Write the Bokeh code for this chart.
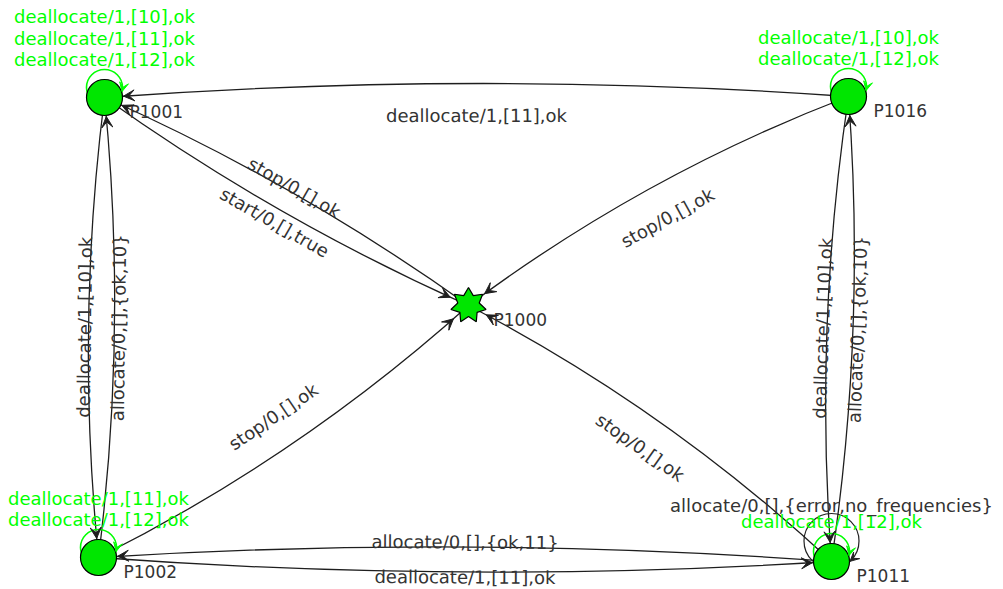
import numpy as np
from bokeh.plotting import figure
from bokeh.models import Range1d, ColumnDataSource, Arrow, VeeHead
from bokeh.core.properties import value
from bokeh.embed import file_html
from bokeh.resources import INLINE

# ---------------- data ----------------
node_names = ["P1000", "P1001", "P1002", "P1011", "P1016"]
node_x = [468, 104, 98, 831, 848]
node_y = [305, 97, 557, 561, 96]
node_shape = ["star", "circle", "circle", "circle", "circle"]

edge_src = ["P1016", "P1001", "P1000", "P1002", "P1001", "P1011",
            "P1016", "P1011", "P1002", "P1002", "P1011", "P1016"]
edge_dst = ["P1001", "P1000", "P1001", "P1001", "P1002", "P1016",
            "P1011", "P1002", "P1011", "P1000", "P1000", "P1000"]
edge_text = ["deallocate/1,[11],ok", "stop/0,[],ok", "start/0,[],true",
             "deallocate/1,[10],ok", "allocate/0,[],{ok,10}",
             "deallocate/1,[10],ok", "allocate/0,[],{ok,10}",
             "deallocate/1,[11],ok", "allocate/0,[],{ok,11}",
             "stop/0,[],ok", "stop/0,[],ok", "stop/0,[],ok"]

# self loops, listed bottom-up per node
loop_node = ["P1001", "P1001", "P1001", "P1016", "P1016",
             "P1002", "P1002", "P1011", "P1011"]
loop_text = ["deallocate/1,[12],ok", "deallocate/1,[11],ok", "deallocate/1,[10],ok",
             "deallocate/1,[12],ok", "deallocate/1,[10],ok",
             "deallocate/1,[12],ok", "deallocate/1,[11],ok",
             "deallocate/1,[12],ok", "allocate/0,[],{error,no_frequencies}"]
loop_kind = ["green"] * 8 + ["dark"]

# ---------------- styles ----------------
edge_bulge = [13.5, 10.5, 10.5, 13, 13, 13, 13, 12.5, 12.5, 15, 15, 15]
edge_label_off = [18.5, 16, 24, 17, 17, 17.5, 17.5, 17.5, 17.5, 18, 17, 19]

GREEN = "#00ff00"
NODE_FILL = "#00e600"
DARK = "#333333"
EDGE_COLOR = "#1e1e1e"
FONT = "DejaVu Sans"
R_NODE = 18
W, H = 1003, 589

p = figure(width=W, height=H, output_backend="svg", toolbar_location=None,
           x_range=Range1d(0, W), y_range=Range1d(H, 0), min_border=0)
p.axis.visible = False
p.grid.visible = False
p.outline_line_color = None
p.background_fill_color = "white"

pos = dict(zip(node_names, zip(node_x, node_y)))

# ---------------- edges ----------------
cx0, cy0, cx1, cy1, ccx, ccy = [], [], [], [], [], []
lab_x, lab_y, lab_a = [], [], []
ar = dict(xs=[], ys=[], xe=[], ye=[])
ts = np.linspace(0, 1, 4001)
for s, t, b, lo in zip(edge_src, edge_dst, edge_bulge, edge_label_off):
    x0, y0 = pos[s]
    x2, y2 = pos[t]
    dx, dy = x2 - x0, y2 - y0
    L = np.hypot(dx, dy)
    nx, ny = -dy / L, dx / L
    mx, my = (x0 + x2) / 2, (y0 + y2) / 2
    cx, cy = mx + 2 * b * nx, my + 2 * b * ny
    cx0.append(x0); cy0.append(y0); cx1.append(x2); cy1.append(y2)
    ccx.append(cx); ccy.append(cy)
    lab_x.append(mx - lo * nx); lab_y.append(my - lo * ny)
    ang = np.arctan2(-dy, dx)
    if ang > np.pi / 2 + 1e-9:
        ang -= np.pi
    elif ang <= -np.pi / 2:
        ang += np.pi
    lab_a.append(ang)
    bx = (1 - ts) ** 2 * x0 + 2 * (1 - ts) * ts * cx + ts ** 2 * x2
    by = (1 - ts) ** 2 * y0 + 2 * (1 - ts) * ts * cy + ts ** 2 * y2
    rt = 20 if t == "P1000" else R_NODE + 1
    d = np.hypot(bx - x2, by - y2)
    i = np.where(d >= rt)[0].max()
    tt = ts[i]
    tx = 2 * (1 - tt) * (cx - x0) + 2 * tt * (x2 - cx)
    ty = 2 * (1 - tt) * (cy - y0) + 2 * tt * (y2 - cy)
    tl = np.hypot(tx, ty)
    ar["xs"].append(bx[i] - tx / tl * 0.5); ar["ys"].append(by[i] - ty / tl * 0.5)
    ar["xe"].append(bx[i]); ar["ye"].append(by[i])

p.quadratic(x0=cx0, y0=cy0, x1=cx1, y1=cy1, cx=ccx, cy=ccy,
            line_color=EDGE_COLOR, line_width=1.3)

# ---------------- loops ----------------
loop_style = {"green": dict(off=10, r=18, color=GREEN, lw=1.6),
              "dark": dict(off=20.5, r=27.5, color="#222222", lw=1.2)}
loop_circ = {}
for n, k in zip(loop_node, loop_kind):
    loop_circ[(n, k)] = True
for (n, k) in loop_circ:
    st = loop_style[k]
    x, y = pos[n]
    p.circle(x=[x], y=[y - st["off"]], radius=st["r"], fill_color=None,
             line_color=st["color"], line_width=st["lw"])
    dd = st["off"]
    a = (dd ** 2 + st["r"] ** 2 - (R_NODE + 0.5) ** 2) / (2 * dd)
    h = np.sqrt(st["r"] ** 2 - a ** 2)
    qx, qy = x + h, y - dd + a
    tx, ty = -a / st["r"], h / st["r"]
    p.add_layout(Arrow(end=VeeHead(size=9, fill_color=st["color"], line_color=st["color"]),
                       x_start=qx - tx * 0.5, y_start=qy - ty * 0.5, x_end=qx, y_end=qy,
                       line_alpha=0))

# ---------------- nodes ----------------
for n, shp in zip(node_names, node_shape):
    x, y = pos[n]
    if shp == "circle":
        p.circle(x=[x], y=[y], radius=R_NODE, fill_color=NODE_FILL,
                 line_color="black", line_width=1.2)
    else:
        k = np.arange(14)
        ang = -np.pi / 2 + k * np.pi / 7
        rad = np.where(k % 2 == 0, 18, 11)
        p.patch(x + rad * np.cos(ang), y + rad * np.sin(ang), fill_color=NODE_FILL,
                line_color="black", line_width=1.2)

# arrows of edges
p.add_layout(Arrow(end=VeeHead(size=11, fill_color=EDGE_COLOR, line_color=EDGE_COLOR, line_width=1),
                   source=ColumnDataSource(ar), x_start="xs", y_start="ys",
                   x_end="xe", y_end="ye", line_alpha=0))

# edge labels
p.text(x=lab_x, y=lab_y, text=edge_text, angle=lab_a, text_align="center",
       text_baseline="middle", text_font=value(FONT), text_font_size="18px",
       text_color=DARK)

# loop labels (stacked upwards from the node)
ll_x, ll_y, ll_t, ll_c = [], [], [], []
level = {}
for n, txt, k in zip(loop_node, loop_text, loop_kind):
    x, y = pos[n]
    cur = level.get(n, None)
    if cur is None:
        yy = y - (38 if n != "P1011" else 40)
    else:
        yy = cur - (21.5 if k == "green" else 16)
    level[n] = yy
    ll_x.append(x); ll_y.append(yy); ll_t.append(txt)
    ll_c.append(GREEN if k == "green" else DARK)
p.text(x=ll_x, y=ll_y, text=ll_t, text_color=ll_c, text_align="center",
       text_baseline="alphabetic", text_font=value(FONT), text_font_size="18px")

# node labels
p.text(x=[pos[n][0] + 25 for n in node_names], y=[pos[n][1] + 14.5 for n in node_names],
       text=node_names, text_align="left", text_baseline="alphabetic",
       text_font=value(FONT), text_font_size="17px", text_color=DARK)

open("out.html", "w").write(file_html(p, INLINE))
